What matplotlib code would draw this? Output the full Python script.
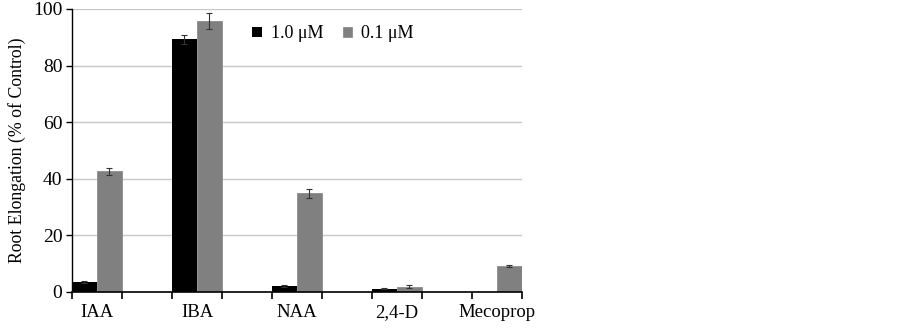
import numpy as np
import matplotlib.pyplot as plt

plt.rcParams['font.family'] = ['Liberation Serif', 'DejaVu Serif']

categories = ['IAA', 'IBA', 'NAA', '2,4-D', 'Mecoprop']
high_conc = [3.6, 89.3, 2.1, 1.2, 0.0]
high_err = [0.3, 1.6, 0.2, 0.3, 0.0]
low_conc = [42.6, 95.9, 34.9, 1.9, 9.3]
low_err = [1.3, 2.8, 1.6, 0.6, 0.4]

x = np.arange(len(categories))
w = 0.25

fig = plt.figure(figsize=(9.02, 3.28), dpi=100)
ax = fig.add_axes([0.0798, 0.1098, 0.4989, 0.8628])

ax.bar(x - w / 2, high_conc, w, color='black', label='1.0 μM', zorder=2)
ax.bar(x + w / 2, low_conc, w, color='#808080', edgecolor='#8c8c8c', linewidth=0.6,
       label='0.1 μM', zorder=2)
err_kw = dict(fmt='none', ecolor='#333333', elinewidth=0.8, capsize=2.5, capthick=0.8, zorder=3)
mask = np.array(high_err) > 0
ax.errorbar((x - w / 2)[mask], np.array(high_conc)[mask], yerr=np.array(high_err)[mask], **err_kw)
ax.errorbar(x + w / 2, low_conc, yerr=low_err, **err_kw)

ax.set_xlim(-0.25, 4.25)
ax.set_ylim(0, 100)
ax.set_yticks(range(0, 101, 20))
ax.tick_params(axis='y', labelsize=14, length=4, width=1, pad=3)
ax.set_xticks(np.arange(-0.25, 4.26, 0.5))
ax.set_xticklabels([])
ax.tick_params(axis='x', length=5, width=1.2, direction='out')
for xi, name in zip(x, categories):
    ax.text(xi, -4.3, name, ha='center', va='top', fontsize=13.5)

ax.yaxis.grid(True, color='#c8c8c8', linewidth=1)
ax.set_axisbelow(True)
for side in ['top', 'right']:
    ax.spines[side].set_visible(False)
ax.spines['left'].set_linewidth(1)
ax.spines['bottom'].set_linewidth(1.2)
ax.set_ylabel('Root Elongation (% of Control)', fontsize=12.8, labelpad=5)

ax.legend(loc='upper left', bbox_to_anchor=(0.365, 1.0), ncol=2, frameon=False,
          fontsize=13, handlelength=0.5, handleheight=0.5, handletextpad=0.5,
          columnspacing=1.1)

fig.savefig('out.png', dpi=100)
